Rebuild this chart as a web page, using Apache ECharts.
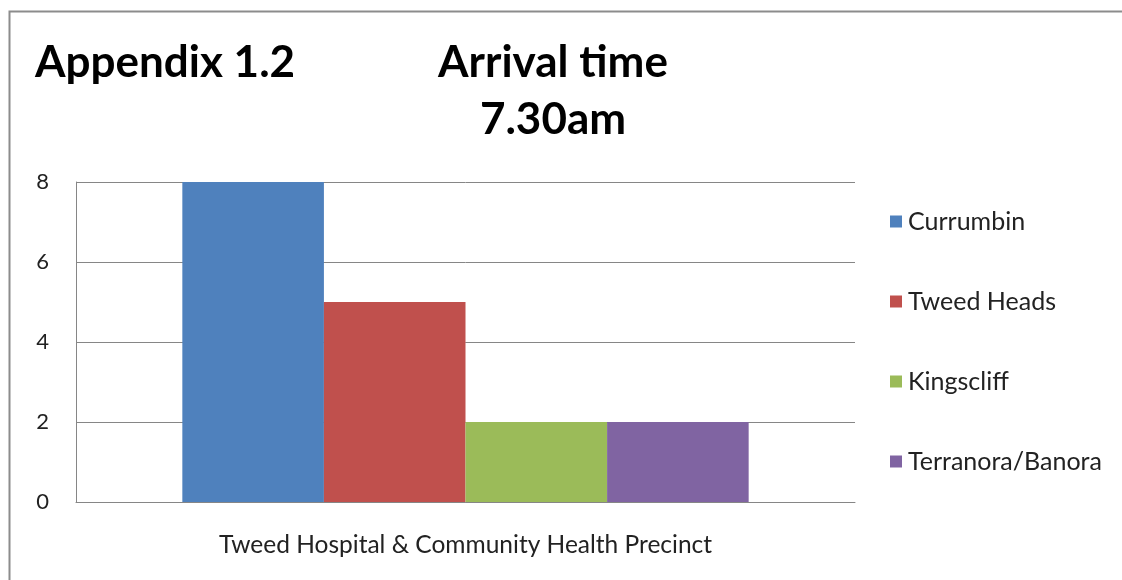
<!DOCTYPE html>
<html>
<head>
<meta charset="utf-8">
<script src="https://cdn.jsdelivr.net/npm/echarts@6/dist/echarts.min.js"></script>
<style>
  html, body { margin: 0; padding: 0; background: #fff; }
  #chart { width: 1122px; height: 580px; }
</style>
</head>
<body>
<div id="chart"></div>
<script>
// 数据
const categories = ['Tweed Hospital & Community Health Precinct'];
const seriesNames = ['Currumbin', 'Tweed Heads', 'Kingscliff', 'Terranora/Banora'];
const seriesValues = [8, 5, 2, 2];
const colors = ['#4f81bd', '#c0504d', '#9bbb59', '#8064a2'];
const yTicks = [0, 2, 4, 6, 8];

const font = 'Lato, "Open Sans", sans-serif';

var myChart = echarts.init(document.getElementById('chart'));
var option;

option = {
  animation: false,
  backgroundColor: '#fff',
  textStyle: { fontFamily: font },
  graphic: [
    {
      type: 'rect',
      shape: { x: 9.5, y: 11.5, width: 1130, height: 600 },
      style: { fill: 'none', stroke: '#8c8c8c', lineWidth: 2 },
      silent: true
    },
    {
      type: 'text',
      x: 35, y: 63,
      style: { text: 'Appendix 1.2', fontFamily: font, fontWeight: 'bold', fontSize: 44, fill: '#000', verticalAlign: 'middle' }
    },
    {
      type: 'text',
      x: 553, y: 63,
      style: { text: 'Arrival time', align: 'center', verticalAlign: 'middle', fontFamily: font, fontWeight: 'bold', fontSize: 44, fill: '#000' }
    },
    {
      type: 'text',
      x: 553, y: 120,
      style: { text: '7.30am', align: 'center', verticalAlign: 'middle', fontFamily: font, fontWeight: 'bold', fontSize: 44, fill: '#000' }
    }
  ],
  legend: {
    orient: 'vertical',
    left: 885,
    top: 204,
    itemGap: 55,
    itemWidth: 12,
    itemHeight: 12,
    icon: 'rect',
    textStyle: { fontSize: 25, color: '#222', fontFamily: font, padding: [0, 0, 0, 1] },
    data: seriesNames
  },
  grid: { left: 76, top: 182, width: 779, height: 320 },
  xAxis: {
    type: 'category',
    data: categories,
    axisLine: { lineStyle: { color: '#868686' } },
    axisTick: { show: false },
    axisLabel: { margin: 31, fontSize: 24.5, color: '#222', fontFamily: font }
  },
  yAxis: {
    type: 'value',
    min: yTicks[0],
    max: yTicks[yTicks.length - 1],
    interval: 2,
    axisLine: { show: true, lineStyle: { color: '#868686' } },
    axisTick: { show: false },
    axisLabel: { margin: 27, fontSize: 22, color: '#222', fontFamily: font },
    splitLine: { lineStyle: { color: '#868686' } }
  },
  series: seriesNames.map((name, i) => ({
    name: name,
    type: 'bar',
    data: [seriesValues[i]],
    barGap: '0%',
    barCategoryGap: '27.3%',
    itemStyle: { color: colors[i] }
  }))
};

option && myChart.setOption(option);
</script>
</body>
</html>
